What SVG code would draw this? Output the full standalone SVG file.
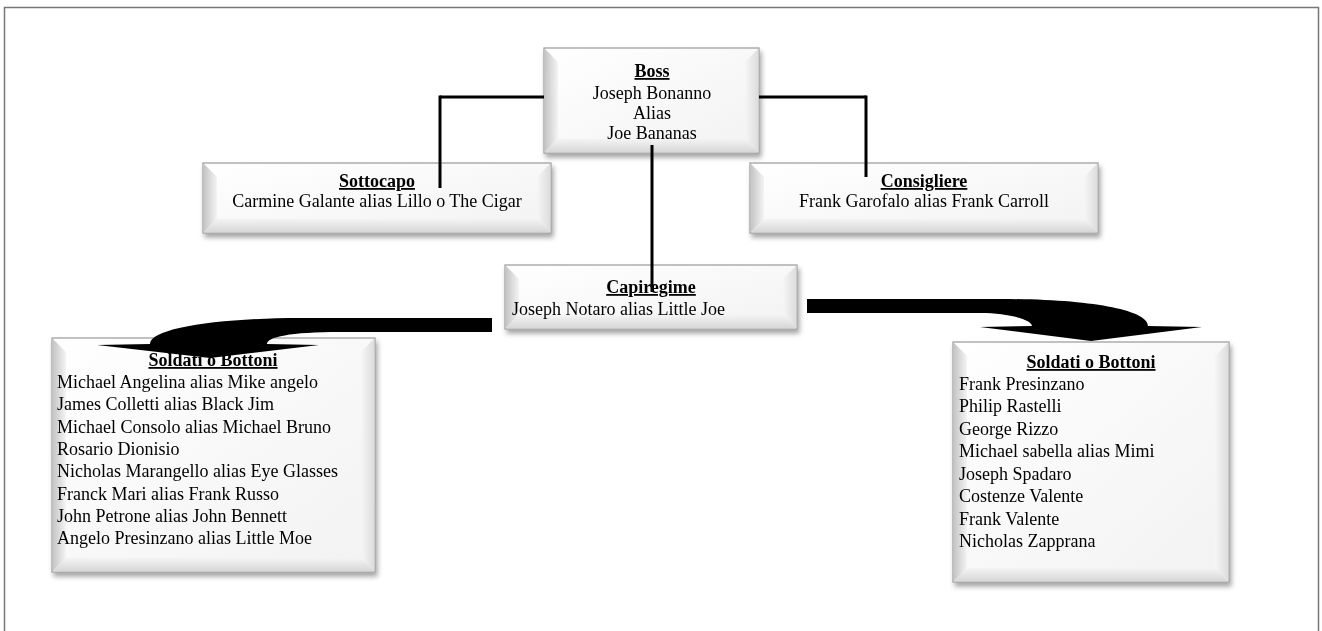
<svg xmlns="http://www.w3.org/2000/svg" width="1322" height="631" viewBox="0 0 1322 631">
<defs>
<filter id="sh" x="-10%" y="-10%" width="125%" height="130%">
<feDropShadow dx="2" dy="4" stdDeviation="2.5" flood-color="#000" flood-opacity="0.35"/>
</filter>
<linearGradient id="gl" x1="0" y1="0" x2="1" y2="0"><stop offset="0" stop-color="#c4c4c4"/><stop offset="1" stop-color="#f4f4f4"/></linearGradient>
<linearGradient id="gr" x1="0" y1="0" x2="1" y2="0"><stop offset="0" stop-color="#f6f6f6"/><stop offset="1" stop-color="#dcdcdc"/></linearGradient>
<linearGradient id="gb" x1="0" y1="0" x2="0" y2="1"><stop offset="0" stop-color="#f4f4f4"/><stop offset="1" stop-color="#d6d6d6"/></linearGradient>
<linearGradient id="gf" x1="0" y1="0" x2="1" y2="1"><stop offset="0" stop-color="#ffffff"/><stop offset="1" stop-color="#f2f2f2"/></linearGradient>
</defs>
<style>
text{font-family:"Liberation Serif","Times New Roman",serif;font-size:18px;fill:#000}
.t{font-weight:bold;text-decoration:underline}
.c{text-anchor:middle}
.box{fill:url(#gf);stroke:#9a9a9a;stroke-width:1.2}
.bl{fill:url(#gl)}
.br{fill:url(#gr)}
.bb{fill:url(#gb)}
.conn line{stroke:#000;stroke-width:3;fill:none}
.arr{fill:#000}
</style>
<rect x="4.5" y="7.5" width="1314" height="700" fill="#fff" stroke="#777" stroke-width="1.5"/>

<g id="boss" filter="url(#sh)">
<rect class="box" x="544" y="48" width="215" height="105"/>
<polygon class="bl" points="544.6,48.6 558,62 558,139 544.6,152.4"/>
<polygon class="br" points="758.4,48.6 745,62 745,139 758.4,152.4"/>
<polygon class="bb" points="544.6,152.4 558,139 745,139 758.4,152.4"/>
<text x="652" y="77" class="t c">Boss</text>
<text x="652" y="99" class="c">Joseph Bonanno</text>
<text x="652" y="119" class="c">Alias</text>
<text x="652" y="139" class="c">Joe Bananas</text>
</g>

<g id="sottocapo" filter="url(#sh)">
<rect class="box" x="203" y="163" width="348" height="70"/>
<polygon class="bl" points="203.6,163.6 217,177 217,219 203.6,232.4"/>
<polygon class="br" points="550.4,163.6 537,177 537,219 550.4,232.4"/>
<polygon class="bb" points="203.6,232.4 217,219 537,219 550.4,232.4"/>
<text x="377" y="187" class="t c">Sottocapo</text>
<text x="377" y="207" class="c">Carmine Galante alias Lillo o The Cigar</text>
</g>

<g id="consigliere" filter="url(#sh)">
<rect class="box" x="750" y="163" width="348" height="70"/>
<polygon class="bl" points="750.6,163.6 764,177 764,219 750.6,232.4"/>
<polygon class="br" points="1097.4,163.6 1084,177 1084,219 1097.4,232.4"/>
<polygon class="bb" points="750.6,232.4 764,219 1084,219 1097.4,232.4"/>
<text x="924" y="187" class="t c">Consigliere</text>
<text x="924" y="207" class="c">Frank Garofalo alias Frank Carroll</text>
</g>

<g id="capiregime" filter="url(#sh)">
<rect class="box" x="505" y="265" width="292" height="64"/>
<polygon class="bl" points="505.6,265.6 519,279 519,315 505.6,328.4"/>
<polygon class="br" points="796.4,265.6 783,279 783,315 796.4,328.4"/>
<polygon class="bb" points="505.6,328.4 519,315 783,315 796.4,328.4"/>
<text x="651" y="293" class="t c">Capiregime</text>
<text x="512" y="315">Joseph Notaro alias Little Joe</text>
</g>

<g id="soldati-left" filter="url(#sh)">
<rect class="box" x="52" y="338" width="323" height="234"/>
<polygon class="bl" points="52.6,338.6 66,352 66,558 52.6,571.4"/>
<polygon class="br" points="374.4,338.6 361,352 361,558 374.4,571.4"/>
<polygon class="bb" points="52.6,571.4 66,558 361,558 374.4,571.4"/>
<text x="213" y="366" class="t c">Soldati o Bottoni</text>
<text x="57" y="388">Michael Angelina alias Mike angelo</text>
<text x="57" y="410">James Colletti alias Black Jim</text>
<text x="57" y="433">Michael Consolo alias Michael Bruno</text>
<text x="57" y="455">Rosario Dionisio</text>
<text x="57" y="477">Nicholas Marangello alias Eye Glasses</text>
<text x="57" y="500">Franck Mari alias Frank Russo</text>
<text x="57" y="522">John Petrone alias John Bennett</text>
<text x="57" y="544">Angelo Presinzano alias Little Moe</text>
</g>

<g id="soldati-right" filter="url(#sh)">
<rect class="box" x="953" y="342" width="276" height="240"/>
<polygon class="bl" points="953.6,342.6 967,356 967,568 953.6,581.4"/>
<polygon class="br" points="1228.4,342.6 1215,356 1215,568 1228.4,581.4"/>
<polygon class="bb" points="953.6,581.4 967,568 1215,568 1228.4,581.4"/>
<text x="1091" y="368" class="t c">Soldati o Bottoni</text>
<text x="959" y="390">Frank Presinzano</text>
<text x="959" y="412">Philip Rastelli</text>
<text x="959" y="435">George Rizzo</text>
<text x="959" y="457">Michael sabella alias Mimi</text>
<text x="959" y="480">Joseph Spadaro</text>
<text x="959" y="502">Costenze Valente</text>
<text x="959" y="525">Frank Valente</text>
<text x="959" y="547">Nicholas Zapprana</text>
</g>

<g id="connectors" class="conn">
<line x1="544" y1="97" x2="440" y2="97"/>
<line x1="440" y1="95.5" x2="440" y2="188"/>
<line x1="759" y1="97" x2="866" y2="97"/>
<line x1="866" y1="95.5" x2="866" y2="177"/>
<line x1="652" y1="145" x2="652" y2="292"/>
<path class="arr" d="M492,318 L300,318 C220,318 150,328 150,344 L97,345 L210,358 L319,345 L267,344 C267,337 290,332 340,332 L492,332 Z"/>
<path class="arr" d="M807,299 L1000,299 C1090,299 1148,310 1148,326 L1202,327 L1091,341 L980,327 L1032,326 C1032,320 1010,313 980,313 L807,313 Z"/>
</g>
</svg>
